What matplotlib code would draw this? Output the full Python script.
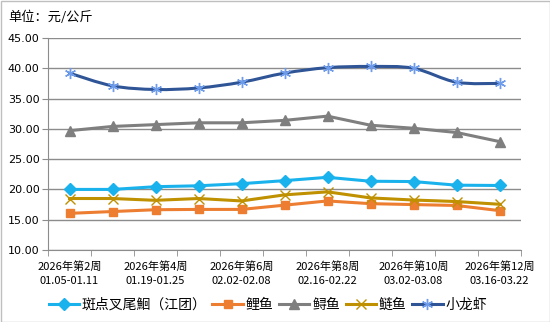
import matplotlib
matplotlib.use("Agg")
import matplotlib.pyplot as plt
from matplotlib.path import Path
from matplotlib.patches import PathPatch
from matplotlib.lines import Line2D
import numpy as np

plt.rcParams['font.family'] = ['Noto Sans CJK SC', 'DejaVu Sans']

weeks = ['2026年第2周\n01.05-01.11', '2026年第3周\n01.12-01.18', '2026年第4周\n01.19-01.25',
         '2026年第5周\n01.26-02.01', '2026年第6周\n02.02-02.08', '2026年第7周\n02.09-02.15',
         '2026年第8周\n02.16-02.22', '2026年第9周\n02.23-03.01', '2026年第10周\n03.02-03.08',
         '2026年第11周\n03.09-03.15', '2026年第12周\n03.16-03.22']

catfish = [20.0, 20.0, 20.45, 20.6, 20.95, 21.45, 22.0, 21.35, 21.3, 20.7, 20.65]
carp = [16.05, 16.35, 16.65, 16.7, 16.7, 17.4, 18.1, 17.65, 17.5, 17.35, 16.5]
sturgeon = [29.7, 30.4, 30.7, 31.0, 31.0, 31.4, 32.1, 30.6, 30.1, 29.4, 27.9]
silver_carp = [18.5, 18.5, 18.2, 18.5, 18.1, 19.1, 19.6, 18.6, 18.25, 18.0, 17.55]
crayfish = [39.2, 37.1, 36.5, 36.75, 37.7, 39.2, 40.1, 40.3, 40.0, 37.7, 37.5]


def smooth_path(xs, ys, t=1/6):
    # Catmull-Rom style bezier through the points (like Excel "smoothed line")
    pts = np.column_stack([xs, ys]).astype(float)
    verts = [pts[0]]
    codes = [Path.MOVETO]
    n = len(pts)
    for i in range(n - 1):
        p0 = pts[max(i - 1, 0)]
        p1 = pts[i]
        p2 = pts[i + 1]
        p3 = pts[min(i + 2, n - 1)]
        c1 = p1 + (p2 - p0) * t
        c2 = p2 - (p3 - p1) * t
        verts += [c1, c2, p2]
        codes += [Path.CURVE4] * 3
    return Path(verts, codes)


fig = plt.figure(figsize=(5.5, 3.22), dpi=100)
ax = fig.add_axes([48/550, 1-250/322, 473/550, 212/322])

x = np.arange(len(weeks))
ax.plot(x, catfish, color='#1AB2EC', lw=2.2, marker='D', ms=6.5, label='斑点叉尾鮰（江团）')
ax.plot(x, carp, color='#ED7D31', lw=2.2, marker='s', ms=5.5, label='鲤鱼')
ax.plot(x, sturgeon, color='#7F7F7F', lw=2.2, marker='^', ms=7, label='鲟鱼')
ax.plot(x, silver_carp, color='#BF9000', lw=2.2, marker='x', ms=7, mew=1, label='鲢鱼')

ax.add_patch(PathPatch(smooth_path(x, crayfish), fill=False, ec='#2F5597', lw=2.2,
                       capstyle='round', joinstyle='round'))
ax.plot(x, crayfish, ls='none', marker=(6, 2, 0), ms=8, mew=1, mec='#6E9BEA')
cray_handle = Line2D([], [], color='#2F5597', lw=2.2, marker=(6, 2, 0), ms=8, mew=1,
                     mec='#6E9BEA')

ax.set_ylim(10, 45)
ax.set_yticks(np.arange(10, 46, 5))
ax.set_yticklabels(['%.2f' % v for v in np.arange(10, 46, 5)], family='DejaVu Sans', fontsize=8)
ax.grid(axis='y', color='#8C8C8C', lw=1)
ax.set_axisbelow(True)

ax.set_xlim(-0.5, len(weeks) - 0.5)
ax.set_xticks(x[::2])
ax.set_xticklabels(weeks[::2], fontsize=8, linespacing=1.5)
ax.set_xticks(np.arange(-0.5, len(weeks), 1), minor=True)
ax.tick_params(axis='x', which='major', length=0, pad=8)
ax.tick_params(axis='x', which='minor', length=4, color='#8C8C8C')
ax.tick_params(axis='y', length=4, color='#8C8C8C', pad=2)

for s in ['top', 'right']:
    ax.spines[s].set_visible(False)
for s in ['left', 'bottom']:
    ax.spines[s].set_color('#8C8C8C')

fig.text(8/550, 1-17/322, '单位：元/公斤', fontsize=9.5, va='center')

handles, labels = ax.get_legend_handles_labels()
handles = handles[:4] + [cray_handle]
labels = labels[:4] + ['小龙虾']
fig.legend(handles, labels, loc='center', bbox_to_anchor=(0.487, 1-305/322), ncol=5,
           frameon=False, fontsize=10, handlelength=2.2, columnspacing=0.4,
           handletextpad=0.2, borderpad=0)

fig.patches.append(plt.Rectangle((0.5/550, 0.5/322), 1-1/550, 1-1/322, transform=fig.transFigure,
                                 fill=False, ec='#BFBFBF', lw=1))

fig.savefig('out.png', dpi=100)
